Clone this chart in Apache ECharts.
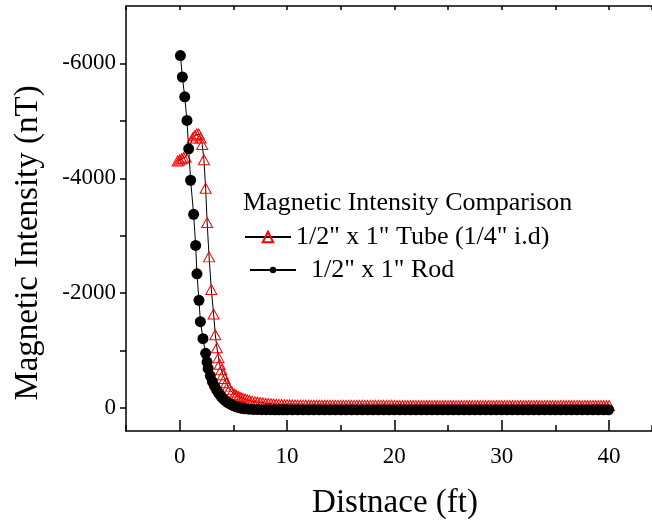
<!DOCTYPE html>
<html>
<head>
<meta charset="utf-8">
<script src="https://cdn.jsdelivr.net/npm/echarts@6/dist/echarts.min.js"></script>
<style>
html,body{margin:0;padding:0;background:#fff;}
#chart{width:652px;height:525px;}
</style>
</head>
<body>
<div id="chart"></div>
<script>
// ---- data ----
const tubeName = '1/2" x 1" Tube (1/4" i.d)';
const rodName = '1/2" x 1" Rod';
const legendTitle = 'Magnetic Intensity Comparison';
const xTitle = 'Distnace (ft)';
const yTitle = 'Magnetic Intensity (nT)';
const xTickLabels = [0, 10, 20, 30, 40];
const yTickLabels = [-6000, -4000, -2000, 0];
const yTicks = [-6000, -5000, -4000, -3000, -2000, -1000, 0];

const tubeX = [
  -0.19, 0.0, 0.19, 0.37, 0.56, 1.21, 1.40, 1.58, 1.77, 1.95,
  2.10, 2.26, 2.42, 2.56, 2.74, 2.95, 3.16, 3.32, 3.47, 3.62,
  3.72, 3.88, 4.03, 4.19, 4.34, 4.50, 4.65, 4.87, 5.12, 5.30,
  5.50, 5.70, 5.90, 6.10, 6.30, 6.50, 6.75, 7.0, 7.25, 7.5,
  7.75, 8.0, 8.25, 8.5, 8.75, 9.0, 9.25, 9.5, 9.75, 10.0,
  10.25, 10.5, 10.75, 11, 11.25, 11.5, 11.75, 12, 12.25, 12.5, 12.75, 13, 13.25, 13.5, 13.75, 14, 14.25, 14.5, 14.75, 15,
  15.25, 15.5, 15.75, 16, 16.25, 16.5, 16.75, 17, 17.25, 17.5, 17.75, 18, 18.25, 18.5, 18.75, 19, 19.25, 19.5, 19.75, 20,
  20.25, 20.5, 20.75, 21, 21.25, 21.5, 21.75, 22, 22.25, 22.5, 22.75, 23, 23.25, 23.5, 23.75, 24, 24.25, 24.5, 24.75, 25,
  25.25, 25.5, 25.75, 26, 26.25, 26.5, 26.75, 27, 27.25, 27.5, 27.75, 28, 28.25, 28.5, 28.75, 29, 29.25, 29.5, 29.75, 30,
  30.25, 30.5, 30.75, 31, 31.25, 31.5, 31.75, 32, 32.25, 32.5, 32.75, 33, 33.25, 33.5, 33.75, 34, 34.25, 34.5, 34.75, 35,
  35.25, 35.5, 35.75, 36, 36.25, 36.5, 36.75, 37, 37.25, 37.5, 37.75, 38, 38.25, 38.5, 38.75, 39, 39.25, 39.5, 39.75, 40
];
const tubeY = [
  -4300, -4320, -4340, -4355, -4370, -4700, -4740, -4770, -4770, -4700,
  -4590, -4324, -3828, -3230, -2632, -2063, -1636, -1277, -1048, -877,
  -763, -667, -581, -513, -439, -381, -325, -279, -239, -220,
  -200, -183, -168, -155, -142, -131, -120, -110, -102, -95,
  -89, -83, -78, -73, -69, -66, -63, -60, -58, -56,
  -54, -53, -52, -51, -51, -50, -50, -49, -49, -48, -48, -48, -47, -47, -47, -47, -46, -46, -46, -46,
  -46, -46, -46, -46, -46, -46, -46, -46, -46, -46, -46, -46, -46, -46, -46, -46, -46, -46, -46, -46,
  -45, -45, -45, -45, -45, -45, -45, -45, -45, -45, -45, -45, -45, -45, -45, -45, -45, -45, -45, -45,
  -45, -45, -45, -45, -45, -45, -45, -45, -45, -45, -45, -45, -45, -45, -45, -45, -45, -45, -45, -45,
  -45, -45, -45, -45, -45, -45, -45, -45, -45, -45, -45, -45, -45, -45, -45, -45, -45, -45, -45, -45,
  -45, -45, -45, -45, -45, -45, -45, -45, -45, -45, -45, -45, -45, -45, -45, -45, -45, -45, -45, -45
];

const rodX = [
  0.07, 0.25, 0.47, 0.68, 0.84, 1.02, 1.30, 1.49, 1.61, 1.80,
  1.93, 2.17, 2.42, 2.55, 2.65, 2.85, 3.05, 3.25, 3.45, 3.65,
  3.85, 4.05, 4.25, 4.45, 4.65, 4.85, 5.05, 5.25, 5.45, 5.65,
  5.85, 6.05, 6.45, 6.85, 7.25, 7.65, 8.05, 8.45, 8.85, 9.25,
  9.65, 10.0,
  10.5, 11, 11.5, 12, 12.5, 13, 13.5, 14, 14.5, 15, 15.5, 16, 16.5, 17, 17.5, 18, 18.5, 19, 19.5, 20,
  20.5, 21, 21.5, 22, 22.5, 23, 23.5, 24, 24.5, 25, 25.5, 26, 26.5, 27, 27.5, 28, 28.5, 29, 29.5, 30,
  30.5, 31, 31.5, 32, 32.5, 33, 33.5, 34, 34.5, 35, 35.5, 36, 36.5, 37, 37.5, 38, 38.5, 39, 39.5, 39.95
];
const rodY = [
  -6136, -5764, -5418, -5008, -4513, -3966, -3372, -2832, -2336, -1875,
  -1504, -1208, -952, -800, -690, -560, -460, -380, -310, -255,
  -205, -165, -130, -100, -75, -55, -38, -24, -12, -2,
  6, 13, 20, 24, 27, 28, 29, 29, 30, 30,
  30, 30,
  30, 30, 30, 30, 30, 30, 30, 30, 30, 30, 30, 30, 30, 30, 30, 30, 30, 30, 30, 30,
  30, 30, 30, 30, 30, 30, 30, 30, 30, 30, 30, 30, 30, 30, 30, 30, 30, 30, 30, 30,
  30, 30, 30, 30, 30, 30, 30, 30, 30, 30, 30, 30, 30, 30, 30, 30, 30, 30, 30, 30
];

// ---- chart ----
const FONT = '"Liberation Serif", "Times New Roman", serif';
const chart = echarts.init(document.getElementById('chart'), null, {renderer: 'canvas'});
const axisLineStyle = {color: '#000', width: 1.5};

const option = {
  animation: false,
  backgroundColor: '#fff',
  title: {
    text: legendTitle, left: 243, top: 190, padding: 0,
    textStyle: {fontFamily: FONT, fontSize: 26, fontWeight: 'normal', color: '#000'}
  },
  legend: [
    {
      data: [tubeName], left: 244, top: 224, padding: 0, orient: 'vertical',
      itemWidth: 46, itemHeight: 13,
      textStyle: {fontFamily: FONT, fontSize: 26, color: '#000'}
    },
    {
      data: [rodName], left: 249, top: 257, padding: 0, orient: 'vertical',
      itemWidth: 46, itemHeight: 8,
      textStyle: {fontFamily: FONT, fontSize: 26, color: '#000', padding: [0, 0, 0, 10]}
    }
  ],
  grid: {left: 126, top: 6, right: 0, height: 431, containLabel: false},
  graphic: [{
    type: 'text', x: 28, y: 243, rotation: Math.PI / 2,
    style: {
      text: yTitle, fontFamily: FONT, fontSize: 33, fill: '#000',
      align: 'center', verticalAlign: 'middle', textAlign: 'center', textVerticalAlign: 'middle'
    }
  }],
  xAxis: [
    {
      type: 'value', position: 'bottom', min: -5, max: 44, interval: 5,
      axisLine: {onZero: false, lineStyle: axisLineStyle},
      axisTick: {inside: true, length: 6, lineStyle: axisLineStyle},
      axisLabel: {show: false}, splitLine: {show: false}
    },
    {
      type: 'value', position: 'bottom', min: -5, max: 44, interval: 5,
      axisLine: {show: false, onZero: false},
      axisTick: {inside: true, length: 11, customValues: xTickLabels, lineStyle: axisLineStyle},
      axisLabel: {customValues: xTickLabels, fontFamily: FONT, fontSize: 23, color: '#000', margin: 14,
        formatter: v => String(v)},
      splitLine: {show: false},
      name: xTitle, nameLocation: 'middle', nameGap: 56,
      nameTextStyle: {fontFamily: FONT, fontSize: 33, color: '#000', padding: [0, 0, 0, 12]}
    },
    {
      type: 'value', position: 'top', min: -5, max: 44, interval: 5,
      axisLine: {onZero: false, lineStyle: axisLineStyle},
      axisTick: {inside: true, length: 4, lineStyle: axisLineStyle},
      axisLabel: {show: false}, splitLine: {show: false}
    }
  ],
  yAxis: {
    type: 'value', inverse: true, min: -7000, max: 400, interval: 1000,
    axisLine: {show: true, onZero: false, lineStyle: axisLineStyle},
    axisTick: {show: true, inside: false, length: 6, customValues: yTicks, lineStyle: axisLineStyle},
    axisLabel: {customValues: yTickLabels, fontFamily: FONT, fontSize: 23, color: '#000', margin: 10,
      formatter: v => String(v)},
    splitLine: {show: false}
  },
  series: [
    {
      name: tubeName, type: 'line', xAxisIndex: 0,
      data: tubeX.map((x, i) => [x, tubeY[i]]),
      symbol: 'triangle', symbolSize: [11, 10], showAllSymbol: true,
      lineStyle: {color: '#000', width: 1},
      itemStyle: {color: 'rgba(255,255,255,0)', borderColor: '#ff0000', borderWidth: 1},
      z: 2
    },
    {
      name: rodName, type: 'line', xAxisIndex: 0,
      data: rodX.map((x, i) => [x, rodY[i]]),
      symbol: 'circle', symbolSize: 11, showAllSymbol: true,
      lineStyle: {color: '#000', width: 1},
      itemStyle: {color: '#000', borderWidth: 0},
      z: 3
    }
  ]
};
chart.setOption(option);
</script>
</body>
</html>
